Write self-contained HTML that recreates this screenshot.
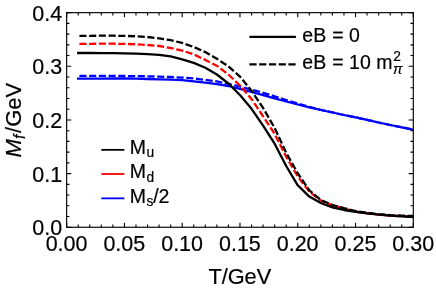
<!DOCTYPE html>
<html><head><meta charset="utf-8"><title>plot</title>
<style>
html,body{margin:0;padding:0;background:#fff;}
svg{display:block;will-change:transform;font-family:"Liberation Sans",sans-serif;}
</style></head><body>
<svg width="436" height="290" viewBox="0 0 436 290">
<rect width="436" height="290" fill="#fff"/>
<defs><clipPath id="c"><rect x="66.65" y="12.65" width="346.65" height="214.60"/></clipPath></defs>
<g clip-path="url(#c)" fill="none" stroke-width="2.3" stroke-linejoin="round">
<polyline stroke="#00f" stroke-linecap="square" points="78.21,78.60 89.76,78.60 101.31,78.60 112.87,78.50 124.43,78.50 135.98,78.70 147.53,79.00 159.09,79.40 170.64,79.60 182.20,80.20 193.75,81.30 205.31,82.60 216.87,84.20 228.42,86.00 239.97,88.80 251.53,92.00 263.08,95.20 274.64,98.40 286.19,101.50 297.75,104.50 309.31,107.40 320.86,110.00 332.41,112.50 343.97,115.00 355.52,117.30 367.08,119.90 378.63,122.50 390.19,125.00 401.75,127.30 413.30,129.70"/>
<polyline stroke="#00f" stroke-dasharray="7.1 2.62" stroke-dashoffset="-1.2" points="78.21,75.90 89.76,75.90 101.31,75.90 112.87,75.90 124.43,76.00 135.98,76.10 147.53,76.30 159.09,76.60 170.64,77.00 182.20,77.60 193.75,78.50 205.31,79.80 216.87,81.40 228.42,83.80 239.97,86.50 251.53,89.60 263.08,92.80 274.64,96.30 286.19,100.00 297.75,103.50 309.31,106.80 320.86,109.80 332.41,112.40 343.97,115.00 355.52,117.30 367.08,119.90 378.63,122.50 390.19,125.00 401.75,127.30 413.30,129.70"/>
<polyline stroke="#f00" stroke-dasharray="7.1 2.62" stroke-dashoffset="-1.2" points="78.21,43.90 89.76,43.80 101.31,43.70 112.87,43.70 124.43,43.90 135.98,44.30 147.53,45.00 159.09,46.00 170.64,48.00 182.20,50.60 193.75,54.40 205.31,59.90 216.87,65.80 228.42,74.50 239.97,85.50 251.53,99.00 263.08,116.30 274.64,133.90 286.19,156.70 297.75,176.50 309.31,191.50 320.86,200.60 332.41,205.30 343.97,208.40 355.52,211.53 367.08,213.25 378.63,214.55 390.19,215.50 401.75,216.15 413.30,216.65"/>
<polyline stroke="#000" stroke-dasharray="7.1 2.62" stroke-dashoffset="-1.2" points="78.21,35.90 89.76,35.80 101.31,35.70 112.87,35.70 124.43,35.90 135.98,36.30 147.53,37.00 159.09,38.30 170.64,40.20 182.20,42.90 193.75,47.00 205.31,52.10 216.87,58.80 228.42,66.40 239.97,76.60 251.53,90.80 263.08,107.90 274.64,127.90 286.19,152.90 297.75,173.30 309.31,190.30 320.86,200.00 332.41,205.00 343.97,208.20 355.52,211.00 367.08,212.75 378.63,214.10 390.19,215.10 401.75,215.65 413.30,216.00"/>
<polyline stroke="#000" stroke-linecap="square" points="78.21,53.00 89.76,53.00 101.31,53.10 112.87,53.20 124.43,53.40 135.98,53.70 147.53,54.10 159.09,54.90 170.64,56.40 182.20,59.30 193.75,62.90 205.31,67.80 216.87,74.50 228.42,83.50 239.97,95.00 251.53,108.80 263.08,125.60 274.64,143.70 286.19,166.00 297.75,185.30 309.31,196.60 320.86,203.00 332.41,207.30 343.97,210.00 355.52,211.75 367.08,213.45 378.63,214.70 390.19,215.60 401.75,216.35 413.30,217.00"/>
</g>
<rect x="66.65" y="12.65" width="346.65" height="214.60" fill="none" stroke="#000" stroke-width="1.15"/>
<path d="M66.65 227.25v-4.60M66.65 12.65v4.60M78.21 227.25v-2.80M78.21 12.65v2.80M89.76 227.25v-2.80M89.76 12.65v2.80M101.31 227.25v-2.80M101.31 12.65v2.80M112.87 227.25v-2.80M112.87 12.65v2.80M124.43 227.25v-4.60M124.43 12.65v4.60M135.98 227.25v-2.80M135.98 12.65v2.80M147.53 227.25v-2.80M147.53 12.65v2.80M159.09 227.25v-2.80M159.09 12.65v2.80M170.64 227.25v-2.80M170.64 12.65v2.80M182.20 227.25v-4.60M182.20 12.65v4.60M193.75 227.25v-2.80M193.75 12.65v2.80M205.31 227.25v-2.80M205.31 12.65v2.80M216.87 227.25v-2.80M216.87 12.65v2.80M228.42 227.25v-2.80M228.42 12.65v2.80M239.97 227.25v-4.60M239.97 12.65v4.60M251.53 227.25v-2.80M251.53 12.65v2.80M263.08 227.25v-2.80M263.08 12.65v2.80M274.64 227.25v-2.80M274.64 12.65v2.80M286.19 227.25v-2.80M286.19 12.65v2.80M297.75 227.25v-4.60M297.75 12.65v4.60M309.31 227.25v-2.80M309.31 12.65v2.80M320.86 227.25v-2.80M320.86 12.65v2.80M332.41 227.25v-2.80M332.41 12.65v2.80M343.97 227.25v-2.80M343.97 12.65v2.80M355.52 227.25v-4.60M355.52 12.65v4.60M367.08 227.25v-2.80M367.08 12.65v2.80M378.63 227.25v-2.80M378.63 12.65v2.80M390.19 227.25v-2.80M390.19 12.65v2.80M401.75 227.25v-2.80M401.75 12.65v2.80M413.30 227.25v-4.60M413.30 12.65v4.60M66.65 227.25h4.60M413.30 227.25h-4.60M66.65 216.52h2.80M413.30 216.52h-2.80M66.65 205.79h2.80M413.30 205.79h-2.80M66.65 195.06h2.80M413.30 195.06h-2.80M66.65 184.33h2.80M413.30 184.33h-2.80M66.65 173.60h4.60M413.30 173.60h-4.60M66.65 162.87h2.80M413.30 162.87h-2.80M66.65 152.14h2.80M413.30 152.14h-2.80M66.65 141.41h2.80M413.30 141.41h-2.80M66.65 130.68h2.80M413.30 130.68h-2.80M66.65 119.95h4.60M413.30 119.95h-4.60M66.65 109.22h2.80M413.30 109.22h-2.80M66.65 98.49h2.80M413.30 98.49h-2.80M66.65 87.76h2.80M413.30 87.76h-2.80M66.65 77.03h2.80M413.30 77.03h-2.80M66.65 66.30h4.60M413.30 66.30h-4.60M66.65 55.57h2.80M413.30 55.57h-2.80M66.65 44.84h2.80M413.30 44.84h-2.80M66.65 34.11h2.80M413.30 34.11h-2.80M66.65 23.38h2.80M413.30 23.38h-2.80M66.65 12.65h4.60M413.30 12.65h-4.60" stroke="#000" stroke-width="1.1" fill="none"/>
<g fill="#000" stroke="#000" stroke-width="0.2">
<text transform="translate(66.55,251.40) scale(1,1.040)" font-size="21.50" text-anchor="middle">0.00</text>
<text transform="translate(124.33,251.40) scale(1,1.040)" font-size="21.50" text-anchor="middle">0.05</text>
<text transform="translate(182.10,251.40) scale(1,1.040)" font-size="21.50" text-anchor="middle">0.10</text>
<text transform="translate(239.88,251.40) scale(1,1.040)" font-size="21.50" text-anchor="middle">0.15</text>
<text transform="translate(297.65,251.40) scale(1,1.040)" font-size="21.50" text-anchor="middle">0.20</text>
<text transform="translate(355.42,251.40) scale(1,1.040)" font-size="21.50" text-anchor="middle">0.25</text>
<text transform="translate(413.20,251.40) scale(1,1.040)" font-size="21.50" text-anchor="middle">0.30</text>
<text transform="translate(62.20,235.15) scale(1,1.040)" font-size="21.50" text-anchor="end">0.0</text>
<text transform="translate(62.20,181.50) scale(1,1.040)" font-size="21.50" text-anchor="end">0.1</text>
<text transform="translate(62.20,127.85) scale(1,1.040)" font-size="21.50" text-anchor="end">0.2</text>
<text transform="translate(62.20,74.20) scale(1,1.040)" font-size="21.50" text-anchor="end">0.3</text>
<text transform="translate(62.20,20.55) scale(1,1.040)" font-size="21.50" text-anchor="end">0.4</text>
<text transform="translate(239.80,283.50) scale(1,1.040)" font-size="21.75" text-anchor="middle">T/GeV</text>
<g transform="translate(21.1,157.6) rotate(-90)">
<text transform="translate(0.00,0.00) scale(1,1.040)" font-size="22.00" font-style="italic">M</text>
<text transform="translate(18.60,3.60) scale(1,1.040)" font-size="15.60" font-style="italic">f</text>
<text transform="translate(24.70,0.00) scale(1,1.040)" font-size="22.00">/GeV</text>
</g>
<text transform="translate(302.30,41.60) scale(1,1.040)" font-size="19.50">eB</text>
<text transform="translate(332.30,41.60) scale(1,1.040)" font-size="19.50">= 0</text>
<text transform="translate(302.30,69.20) scale(1,1.040)" font-size="19.50">eB</text>
<text transform="translate(332.30,69.20) scale(1,1.040)" font-size="19.50">= 10 m</text>
<text transform="translate(393.20,61.40) scale(1,1.040)" font-size="13.80">2</text>
<text transform="translate(392.90,74.00) scale(1,1.040)" font-size="14.20" font-style="italic">&#960;</text>
<text transform="translate(129.80,154.00) scale(1,1.040)" font-size="19.50">M</text>
<text transform="translate(146.40,157.20) scale(1,1.040)" font-size="13.80">u</text>
<text transform="translate(129.80,178.40) scale(1,1.040)" font-size="19.50">M</text>
<text transform="translate(146.40,181.60) scale(1,1.040)" font-size="13.80">d</text>
<text transform="translate(129.80,202.90) scale(1,1.040)" font-size="19.50">M</text>
<text transform="translate(146.40,206.10) scale(1,1.040)" font-size="13.80">s</text>
<text transform="translate(153.20,202.90) scale(1,1.040)" font-size="19.50">/2</text>
</g>
<g stroke="#000" stroke-width="2.3" fill="none">
<path d="M249.4 36.9H295.9"/>
<path d="M249.4 64.4H295.9" stroke-dasharray="7.2 2.55"/>
</g>
<g stroke-width="1.8" fill="none">
<path d="M101.3 149.85H124.4" stroke="#000"/>
<path d="M101.3 174.0H124.4" stroke="#f00"/>
<path d="M101.3 198.35H124.4" stroke="#00f"/>
</g>
</svg>
</body></html>
